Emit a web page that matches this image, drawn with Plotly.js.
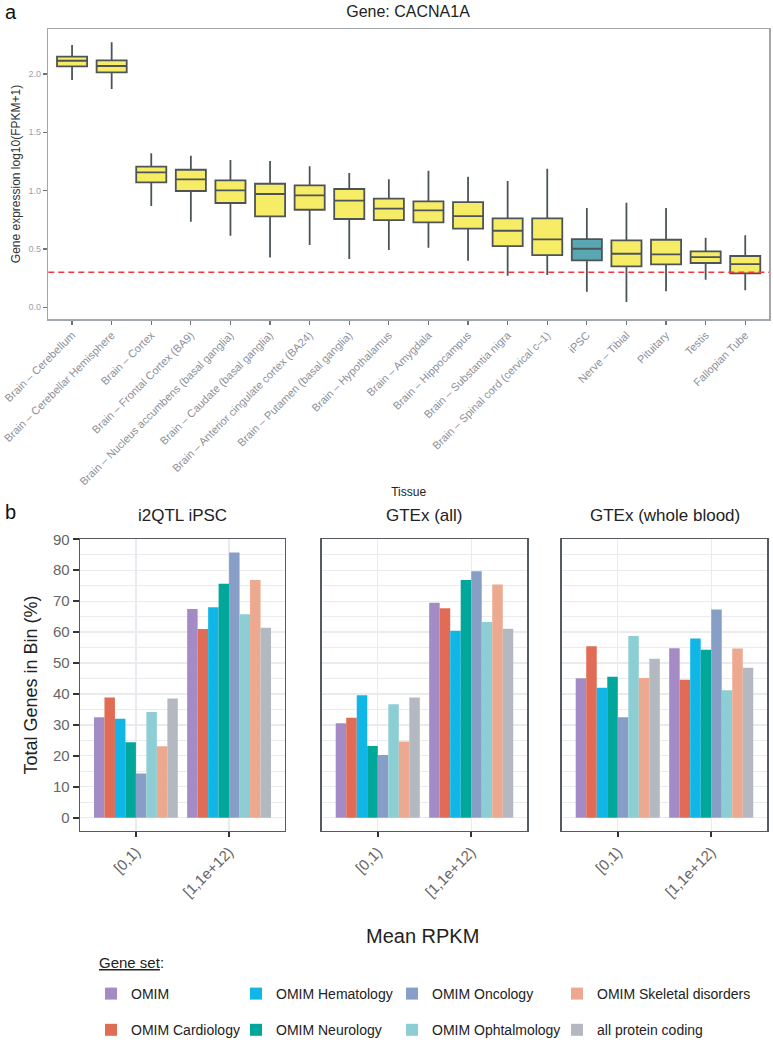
<!DOCTYPE html>
<html><head><meta charset="utf-8">
<script src="https://cdn.plot.ly/plotly-3.0.1.min.js"></script>
<style>html,body{margin:0;padding:0;background:#fff}</style>
</head><body><div id="chart" style="width:773px;height:1050px"></div>
<script>
// ---------- Panel a data (box plot, log10(FPKM+1)) ----------
const tissues = [
  'Brain – Cerebellum', 'Brain – Cerebellar Hemisphere', 'Brain – Cortex',
  'Brain – Frontal Cortex (BA9)', 'Brain – Nucleus accumbens (basal ganglia)',
  'Brain – Caudate (basal ganglia)', 'Brain – Anterior cingulate cortex (BA24)',
  'Brain – Putamen (basal ganglia)', 'Brain – Hypothalamus', 'Brain – Amygdala',
  'Brain – Hippocampus', 'Brain – Substantia nigra', 'Brain – Spinal cord (cervical c–1)',
  'iPSC', 'Nerve – Tibial', 'Pituitary', 'Testis', 'Fallopian Tube'
];
const boxUpper  = [2.248, 2.271, 1.320, 1.299, 1.262, 1.254, 1.208, 1.151, 1.097, 1.171, 1.119, 1.082, 1.188, 0.851, 0.896, 0.851, 0.596, 0.617];
const boxQ3     = [2.148, 2.116, 1.205, 1.179, 1.088, 1.059, 1.045, 1.014, 0.931, 0.908, 0.902, 0.763, 0.763, 0.585, 0.574, 0.579, 0.480, 0.440];
const boxMedian = [2.113, 2.068, 1.157, 1.097, 1.003, 0.971, 0.960, 0.914, 0.845, 0.831, 0.782, 0.656, 0.583, 0.502, 0.459, 0.454, 0.431, 0.371];
const boxQ1     = [2.065, 2.014, 1.071, 0.997, 0.894, 0.780, 0.836, 0.757, 0.748, 0.728, 0.674, 0.525, 0.448, 0.403, 0.351, 0.368, 0.380, 0.291];
const boxLower  = [1.948, 1.871, 0.868, 0.734, 0.614, 0.428, 0.534, 0.414, 0.491, 0.511, 0.400, 0.271, 0.277, 0.134, 0.045, 0.137, 0.237, 0.146];
const highlightTissue = 'iPSC';
const thresholdValue = 0.3;
const yTicksA = [0, 0.5, 1.0, 1.5, 2.0];

// ---------- Panel b data (% of genes per RPKM bin) ----------
const binLabels = ['[0,1)', '[1,1e+12)'];
const geneSets = ['OMIM', 'OMIM Cardiology', 'OMIM Hematology', 'OMIM Neurology',
                  'OMIM Oncology', 'OMIM Ophtalmology', 'OMIM Skeletal disorders', 'all protein coding'];
const geneSetColors = ['#A48BC6', '#E16C56', '#10B7E6', '#00A79A', '#879FC7', '#8DCED4', '#ECA98F', '#B4B9C1'];
const panelTitles = ['i2QTL iPSC', 'GTEx (all)', 'GTEx (whole blood)'];
const i2qtlLow      = [32.5, 38.9, 32.0, 24.4, 14.3, 34.2, 23.1, 38.5];
const i2qtlHigh     = [67.5, 61.0, 68.0, 75.6, 85.7, 65.8, 76.8, 61.4];
const gtexAllLow    = [30.5, 32.3, 39.6, 23.2, 20.3, 36.7, 24.6, 38.9];
const gtexAllHigh   = [69.5, 67.7, 60.4, 76.8, 79.7, 63.3, 75.4, 61.1];
const gtexBloodLow  = [45.1, 55.4, 42.0, 45.6, 32.5, 58.7, 45.2, 51.4];
const gtexBloodHigh = [54.8, 44.6, 57.9, 54.3, 67.3, 41.2, 54.7, 48.5];
const yTicksB = [0, 10, 20, 30, 40, 50, 60, 70, 80, 90];

// ---------- build ----------
const W = 773, H = 1050;
const fx = p => p / W;
const fy = p => 1 - p / H;
const FONT = 'Liberation Sans, Arial, Helvetica, sans-serif';

const traces = [];
function boxTrace(keep, color) {
  const idx = tissues.map((t, i) => i).filter(i => keep(tissues[i]));
  return {
    type: 'box', xaxis: 'x', yaxis: 'y', showlegend: false,
    x: idx.map(i => tissues[i]),
    q1: idx.map(i => boxQ1[i]), median: idx.map(i => boxMedian[i]), q3: idx.map(i => boxQ3[i]),
    lowerfence: idx.map(i => boxLower[i]), upperfence: idx.map(i => boxUpper[i]),
    boxpoints: false, whiskerwidth: 0, width: 0.76,
    fillcolor: color, line: {color: '#4c5458', width: 1.8}
  };
}
traces.push(boxTrace(t => t !== highlightTissue, '#F6EC66'));
traces.push(boxTrace(t => t === highlightTissue, '#58A7B3'));

const panelData = [[i2qtlLow, i2qtlHigh], [gtexAllLow, gtexAllHigh], [gtexBloodLow, gtexBloodHigh]];
const legendIds = ['legend', 'legend2', 'legend3', 'legend4'];
panelData.forEach((pd, p) => {
  geneSets.forEach((g, i) => {
    traces.push({
      type: 'bar', xaxis: 'x' + (p + 2), yaxis: 'y' + (p + 2),
      x: binLabels, y: [pd[0][i], pd[1][i]], name: g,
      marker: {color: geneSetColors[i], line: {width: 0}},
      legendgroup: g, showlegend: p === 0, legend: legendIds[Math.floor(i / 2)]
    });
  });
});

const panelX = [[80, 285], [321.7, 527.3], [561.7, 767.3]];
const legendX = [91, 236, 392, 557];
const gridCol = '#EAEBF0';
const layout = {
  width: W, height: H, margin: {l: 0, r: 0, t: 0, b: 0},
  paper_bgcolor: '#fff', plot_bgcolor: '#fff',
  font: {family: FONT, color: '#333'},
  barmode: 'group', bargap: 0.1, bargroupgap: 0, boxmode: 'overlay',
  title: {text: 'Gene: CACNA1A', x: fx(408), xanchor: 'center', y: fy(11), yanchor: 'middle',
          font: {size: 16, color: '#222'}},
  xaxis: {domain: [fx(48.3), fx(769)], anchor: 'y', type: 'category',
          categoryorder: 'array', categoryarray: tissues, range: [-0.6, 17.6],
          tickangle: -45, tickfont: {size: 11, color: '#8b909a'},
          ticks: 'outside', ticklen: 4, tickwidth: 1.2, tickcolor: '#6d7378',
          showline: true, mirror: true, linecolor: '#a2a7ac', linewidth: 1.5,
          showgrid: false, zeroline: false,
          title: {text: 'Tissue', font: {size: 12, color: '#222'}, standoff: 1}},
  yaxis: {domain: [fy(319), fy(29)], anchor: 'x', range: [-0.1, 2.385],
          tickvals: yTicksA, tickformat: '.1f', tickfont: {size: 9, color: '#9a9fa7'},
          ticks: 'outside', ticklen: 4, tickwidth: 1.2, tickcolor: '#6d7378',
          showline: true, mirror: true, linecolor: '#a2a7ac', linewidth: 1.5,
          showgrid: false, zeroline: false,
          title: {text: 'Gene expression log10(FPKM+1)', font: {size: 12, color: '#333'}, standoff: 5}},
  shapes: [{type: 'line', xref: 'x domain', x0: 0, x1: 1, yref: 'y', y0: thresholdValue, y1: thresholdValue,
            line: {color: '#F2373F', width: 1.5, dash: '6px,4px'}, layer: 'above'}],
  annotations: [
    {text: 'a', x: fx(3), y: fy(12), xref: 'paper', yref: 'paper', xanchor: 'left', yanchor: 'middle',
     showarrow: false, font: {size: 20, color: '#111'}},
    {text: 'b', x: fx(3), y: fy(512), xref: 'paper', yref: 'paper', xanchor: 'left', yanchor: 'middle',
     showarrow: false, font: {size: 20, color: '#111'}},
    {text: 'Mean RPKM', x: fx(423), y: fy(936), xref: 'paper', yref: 'paper', xanchor: 'center', yanchor: 'middle',
     showarrow: false, font: {size: 20, color: '#222'}},
    {text: '<u>Gene set</u>:', x: fx(97), y: fy(962), xref: 'paper', yref: 'paper', xanchor: 'left', yanchor: 'middle',
     showarrow: false, font: {size: 15, color: '#222'}}
  ]
};
legendIds.forEach((id, k) => {
  layout[id] = {x: fx(legendX[k]), y: fy(978), xanchor: 'left', yanchor: 'top', orientation: 'v',
                tracegroupgap: 15, font: {size: 14, color: '#222', family: FONT}, bgcolor: 'rgba(0,0,0,0)'};
});

panelX.forEach((px, p) => {
  const n = p + 2;
  layout['xaxis' + n] = {
    domain: [fx(px[0]), fx(px[1])], anchor: 'y' + n, type: 'category',
    categoryorder: 'array', categoryarray: binLabels, range: [-0.6, 1.6],
    tickangle: -45, tickfont: {size: 15, color: '#666'},
    ticks: 'outside', ticklen: 5, tickwidth: 1.6, tickcolor: '#333',
    showline: true, mirror: true, linecolor: '#545a5f', linewidth: 1.3,
    showgrid: true, gridcolor: gridCol, gridwidth: 1.3, zeroline: false
  };
  layout['yaxis' + n] = {
    domain: [fy(831), fy(539)], anchor: 'x' + n, range: [-4.29, 90.09],
    tickvals: yTicksB, showticklabels: p === 0, tickfont: {size: 15, color: '#666'},
    ticks: p === 0 ? 'outside' : '', ticklen: 6, tickwidth: 1.6, tickcolor: '#333',
    showline: true, mirror: true, linecolor: '#545a5f', linewidth: 1.3,
    showgrid: true, gridcolor: gridCol, gridwidth: 1.3, zeroline: false,
    minor: {dtick: 5, tick0: 0, showgrid: true, gridcolor: gridCol, gridwidth: 1, ticks: ''}
  };
  if (p === 0) layout['yaxis' + n].title = {text: 'Total Genes in Bin (%)', font: {size: 18, color: '#222'}, standoff: 10};
  layout.annotations.push({
    text: panelTitles[p], x: fx((px[0] + px[1]) / 2), y: fy(515), xref: 'paper', yref: 'paper',
    xanchor: 'center', yanchor: 'middle', showarrow: false, font: {size: 17, color: '#222'}
  });
});

Plotly.newPlot('chart', traces, layout, {displayModeBar: false, staticPlot: true});
</script></body></html>
